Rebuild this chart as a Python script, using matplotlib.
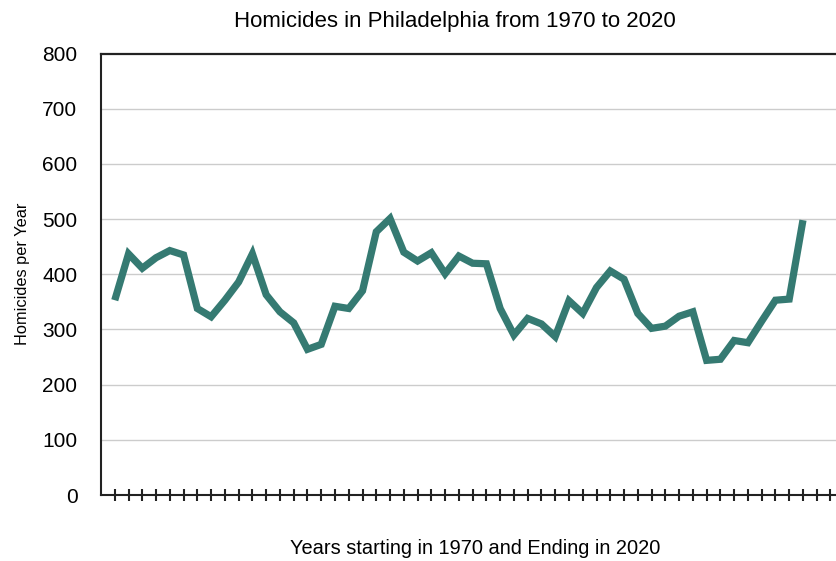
import matplotlib
matplotlib.use("Agg")
import matplotlib.pyplot as plt

plt.rcParams['font.family'] = ['Liberation Sans', 'DejaVu Sans']

# Homicides per year, 1970 .. 2020
years = list(range(1970, 2021))
homicides = [353, 437, 411, 430, 443, 435, 338, 323, 353, 386,
             437, 363, 332, 312, 264, 273, 342, 338, 370, 477,
             501, 440, 424, 439, 401, 433, 420, 419, 338, 290,
             320, 310, 287, 352, 329, 376, 406, 391, 329, 302,
             306, 324, 332, 244, 246, 280, 276, 315, 353, 355,
             498]
y_ticks = [0, 100, 200, 300, 400, 500, 600, 700, 800]

fig = plt.figure(figsize=(8.36, 5.61), dpi=100)
ax = fig.add_axes([0.1208, 0.1176, 0.8792, 0.787])

idx = list(range(len(years)))
ax.plot(idx, homicides, color='#357a72', lw=5.2,
        solid_joinstyle='miter', solid_capstyle='butt', zorder=3)

ax.set_xlim(-1, 52.4)
ax.set_ylim(0, 800)
ax.set_yticks(y_ticks)
ax.set_xticks(range(0, 53))
ax.set_xticklabels([])

for v in y_ticks[1:-1]:
    ax.axhline(v, color='#cccccc', lw=1, zorder=1)
ax.axhline(800, color='#222222', lw=1.6, zorder=2, clip_on=False)

for s in ['right', 'top']:
    ax.spines[s].set_visible(False)
for s in ['left', 'bottom']:
    ax.spines[s].set_linewidth(1.5)
    ax.spines[s].set_color('#222222')

ax.tick_params(axis='y', length=0, pad=17, labelsize=15)
ax.tick_params(axis='x', direction='inout', length=8, width=1.5, color='#222222')

ax.set_ylabel('Homicides per Year', fontsize=11.8, labelpad=9)
fig.text(0.544, 0.962, 'Homicides in Philadelphia from 1970 to 2020',
         ha='center', va='center', fontsize=16)
fig.text(0.569, 0.006, 'Years starting in 1970 and Ending in 2020',
         ha='center', va='bottom', fontsize=14.4)

fig.savefig('out.png', dpi=100)
